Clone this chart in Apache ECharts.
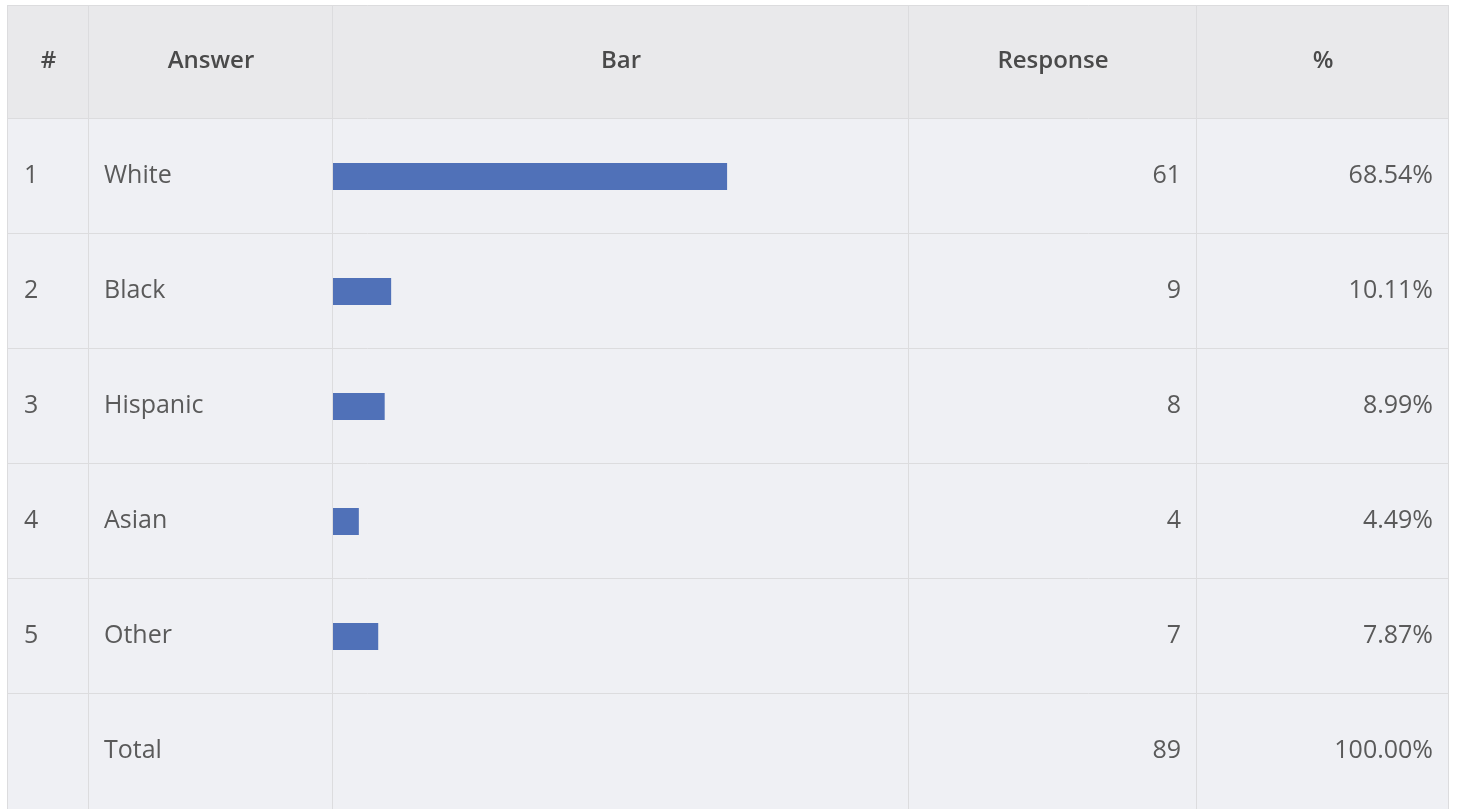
<!DOCTYPE html>
<html><head><meta charset="utf-8">
<script src="https://cdn.jsdelivr.net/npm/echarts@6/dist/echarts.min.js"></script>
<style>html,body{margin:0;padding:0;background:#fff}#c{width:1457px;height:809px}</style>
</head><body><div id="c"></div>
<script>
const headers = ['#', 'Answer', 'Bar', 'Response', '%'];
const rowNumbers = ['1', '2', '3', '4', '5', ''];
const answers = ['White', 'Black', 'Hispanic', 'Asian', 'Other', 'Total'];
const responses = [61, 9, 8, 4, 7, null];
const responseLabels = ['61', '9', '8', '4', '7', '89'];
const percentLabels = ['68.54%', '10.11%', '8.99%', '4.49%', '7.87%', '100.00%'];
const totalResponses = 89;

const W = 1457, H = 809;
const tableLeft = 7, tableRight = 1448, tableTop = 5, headerBottom = 118;
const colEdges = [7, 88, 332, 908, 1196, 1448];
const lineColor = '#dcdcde';
const font = '"Open Sans", "Liberation Sans", sans-serif';

const chart = echarts.init(document.getElementById('c'), null, {renderer: 'canvas'});
chart.setOption({
  backgroundColor: '#ffffff',
  animation: false,
  grid: {left: 333, right: W - 908, top: headerBottom + 1, bottom: -1, containLabel: false},
  xAxis: {type: 'value', min: 0, max: totalResponses, show: false},
  yAxis: {type: 'category', data: answers, inverse: true, show: false},
  series: [{
    type: 'bar', data: responses, barWidth: 27, z: 10,
    itemStyle: {color: '#5071b8'}
  }]
});

const g = [];
g.push({type: 'rect', z: 0, shape: {x: tableLeft, y: tableTop, width: tableRight - tableLeft, height: headerBottom - tableTop}, style: {fill: '#e9e9eb'}, silent: true});
g.push({type: 'rect', z: 0, shape: {x: tableLeft, y: headerBottom, width: tableRight - tableLeft, height: H - headerBottom}, style: {fill: '#eff0f4'}, silent: true});
colEdges.forEach(x => g.push({type: 'line', z: 1, shape: {x1: x + 0.5, y1: tableTop, x2: x + 0.5, y2: H}, style: {stroke: lineColor, lineWidth: 1}, silent: true}));
const rowY = answers.map((a) => chart.convertToPixel({yAxisIndex: 0}, a));
const band = rowY.length > 1 ? rowY[1] - rowY[0] : 115;
const hLines = [tableTop, headerBottom];
rowY.slice(0, -1).forEach(y => hLines.push(Math.floor(y + band / 2) - 1));
hLines.forEach(y => g.push({type: 'line', z: 1, shape: {x1: tableLeft, y1: y + 0.5, x2: tableRight + 1, y2: y + 0.5}, style: {stroke: lineColor, lineWidth: 1}, silent: true}));

const headerY = (tableTop + headerBottom) / 2;
headers.forEach((h, i) => {
  g.push({type: 'text', z: 5, x: (colEdges[i] + colEdges[i + 1]) / 2 + 1, y: headerY,
    style: {text: h, fill: '#4a4a4a', font: '600 24px ' + font, align: 'center', verticalAlign: 'middle'}, silent: true});
});
const bodyFont = '400 25px ' + font;
answers.forEach((a, i) => {
  const y = rowY[i] - 1;
  g.push({type: 'text', z: 5, x: 24, y: y, style: {text: rowNumbers[i], fill: '#5a5a5a', font: bodyFont, align: 'left', verticalAlign: 'middle'}, silent: true});
  g.push({type: 'text', z: 5, x: 104, y: y, style: {text: a, fill: '#5a5a5a', font: bodyFont, align: 'left', verticalAlign: 'middle'}, silent: true});
  g.push({type: 'text', z: 5, x: 1181, y: y, style: {text: responseLabels[i], fill: '#5a5a5a', font: bodyFont, align: 'right', verticalAlign: 'middle'}, silent: true});
  g.push({type: 'text', z: 5, x: 1433, y: y, style: {text: percentLabels[i], fill: '#5a5a5a', font: bodyFont, align: 'right', verticalAlign: 'middle'}, silent: true});
});
chart.setOption({graphic: g});
</script>
</body></html>
